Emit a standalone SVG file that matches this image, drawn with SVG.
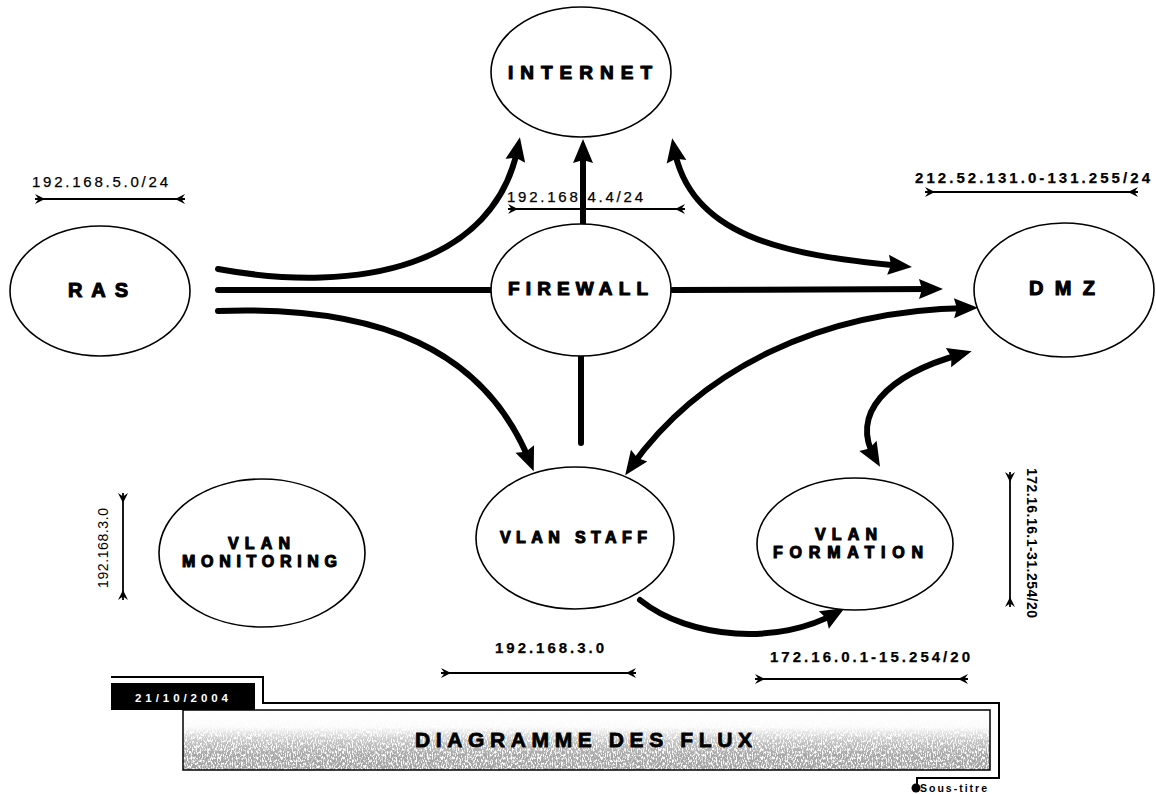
<svg xmlns="http://www.w3.org/2000/svg" width="1156" height="795" viewBox="0 0 1156 795">
  <style>
    text { font-family: "Liberation Sans", Arial, sans-serif; fill: #000; }
    .node ellipse { fill: #fff; stroke: #000; stroke-width: 1.6; }
    .nlabel { font-weight: bold; stroke: #000; stroke-width: 1.1; stroke-linejoin: round; }
    .flow { fill: none; stroke: #000; stroke-width: 6; stroke-linecap: round; }
    .dim { fill: none; stroke: #000; stroke-width: 1.8; marker-start: url(#tick); marker-end: url(#tick); }
    .addr { font-size: 15px; stroke: #000; stroke-width: 0.25; }
    .b { font-weight: bold; }
  </style>
  <defs>
    <!-- solid arrowhead for the flow connectors -->
    <marker id="ah" markerUnits="userSpaceOnUse" viewBox="-2 -12 28 24" markerWidth="28" markerHeight="24" refX="14" refY="0" orient="auto-start-reverse">
      <path d="M0,-10 L24,0 L0,10 L3,0 Z" fill="#000"/>
    </marker>
    <!-- fletched end mark for address range lines -->
    <marker id="tick" markerUnits="userSpaceOnUse" viewBox="-12 -6 14 12" markerWidth="14" markerHeight="12" refX="0" refY="0" orient="auto-start-reverse">
      <path d="M0,-5 L-10,0 L0,5 L-3.5,0 Z" fill="#000"/>
    </marker>
    <linearGradient id="fade" x1="0" y1="0" x2="0" y2="1">
      <stop offset="0" stop-color="#000" stop-opacity="0"/>
      <stop offset="0.28" stop-color="#000" stop-opacity="0.05"/>
      <stop offset="0.5" stop-color="#000" stop-opacity="0.6"/>
      <stop offset="0.75" stop-color="#000" stop-opacity="0.95"/>
      <stop offset="1" stop-color="#000" stop-opacity="1"/>
    </linearGradient>
    <filter id="grain" x="0" y="0" width="1" height="1">
      <feTurbulence type="fractalNoise" baseFrequency="0.8 0.35" numOctaves="3" seed="5" result="t"/>
      <feColorMatrix in="t" type="matrix" values="0 0 0 0 0.36  0 0 0 0 0.36  0 0 0 0 0.36  4.5 0 0 0 -1.45" result="g"/>
      <feComposite in="g" in2="SourceAlpha" operator="in"/>
    </filter>
  </defs>

  <rect width="1156" height="795" fill="#fff"/>

  <!-- flow connectors -->
  <g id="connectors">
    <path class="flow" d="M218,269 C360,295 495,265 518,147" marker-end="url(#ah)"/>
    <path class="flow" d="M218,290 L491,290"/>
    <path class="flow" d="M673,290 L933,289" marker-end="url(#ah)"/>
    <path class="flow" d="M218,311 C380,305 485,350 530,462" marker-end="url(#ah)"/>
    <path class="flow" d="M583,224 L583,149" marker-end="url(#ah)"/>
    <path class="flow" d="M581,356 L581,443"/>
    <path class="flow" d="M674,148 C690,235 780,255 902,266" marker-start="url(#ah)" marker-end="url(#ah)"/>
    <path class="flow" d="M968,308 C820,310 700,370 631,467" marker-start="url(#ah)" marker-end="url(#ah)"/>
    <path class="flow" d="M962,354 C885,375 850,415 875,458" marker-start="url(#ah)" marker-end="url(#ah)"/>
    <path class="flow" d="M640,600 C690,640 780,645 836,613" marker-end="url(#ah)"/>
  </g>

  <!-- nodes -->
  <g id="internet" class="node">
    <ellipse cx="581" cy="72" rx="90" ry="65"/>
    <text class="nlabel" x="508" y="79" font-size="19" textLength="144" lengthAdjust="spacing">INTERNET</text>
  </g>
  <g id="ras" class="node">
    <ellipse cx="100" cy="291" rx="90" ry="65"/>
    <text class="nlabel" x="68" y="297" font-size="20" textLength="60" lengthAdjust="spacing">RAS</text>
  </g>
  <g id="firewall" class="node">
    <ellipse cx="581" cy="290" rx="90" ry="66"/>
    <text class="nlabel" x="508" y="295" font-size="19" textLength="140" lengthAdjust="spacing">FIREWALL</text>
  </g>
  <g id="dmz" class="node">
    <ellipse cx="1064" cy="290" rx="90" ry="67"/>
    <text class="nlabel" x="1029" y="295" font-size="20" textLength="66" lengthAdjust="spacing">DMZ</text>
  </g>
  <g id="vlan-monitoring" class="node">
    <ellipse cx="262" cy="553" rx="103" ry="74"/>
    <text class="nlabel" x="228" y="549" font-size="16" textLength="62" lengthAdjust="spacing">VLAN</text>
    <text class="nlabel" x="182" y="567" font-size="16" textLength="155" lengthAdjust="spacing">MONITORING</text>
  </g>
  <g id="vlan-staff" class="node">
    <ellipse cx="575" cy="538" rx="99" ry="71"/>
    <text class="nlabel" x="500" y="543" font-size="16" textLength="147" lengthAdjust="spacing">VLAN STAFF</text>
  </g>
  <g id="vlan-formation" class="node">
    <ellipse cx="855" cy="544" rx="98" ry="66"/>
    <text class="nlabel" x="815" y="540" font-size="16" textLength="62" lengthAdjust="spacing">VLAN</text>
    <text class="nlabel" x="773" y="558" font-size="16" textLength="150" lengthAdjust="spacing">FORMATION</text>
  </g>

  <!-- address ranges -->
  <g id="ranges">
    <text class="addr" x="32" y="187" textLength="136" lengthAdjust="spacing">192.168.5.0/24</text>
    <path class="dim" d="M35,199 L185,199"/>

    <path class="dim" d="M508,209 L685,209"/>
    <text class="addr" x="507" y="202" font-size="14" textLength="136" lengthAdjust="spacing">192.168.4.4/24</text>

    <text class="addr b" x="915" y="183" textLength="235" lengthAdjust="spacing">212.52.131.0-131.255/24</text>
    <path class="dim" d="M925,192 L1138,192"/>

    <text class="addr b" x="495" y="653" textLength="109" lengthAdjust="spacing">192.168.3.0</text>
    <path class="dim" d="M441,673 L636,673"/>

    <text class="addr b" x="770" y="662" textLength="200" lengthAdjust="spacing">172.16.0.1-15.254/20</text>
    <path class="dim" d="M755,679 L968,679"/>

    <path class="dim" d="M123,493 L123,600"/>
    <text x="0" y="0" font-size="14" transform="translate(108,588) rotate(-90)" textLength="80" lengthAdjust="spacing">192.168.3.0</text>

    <path class="dim" d="M1010,472 L1010,607"/>
    <text class="b" x="0" y="0" font-size="14" transform="translate(1027,468) rotate(90)" textLength="150" lengthAdjust="spacing">172.16.16.1-31.254/20</text>
  </g>

  <!-- title banner -->
  <g id="banner">
    <rect x="183" y="710" width="807" height="60" fill="url(#fade)" filter="url(#grain)"/>
    <rect x="183" y="710" width="807" height="60" fill="none" stroke="#000" stroke-width="1.5"/>
    <path d="M111,677 L263,677 L263,703 L999,703 L999,778 L917,778 L917,786" fill="none" stroke="#000" stroke-width="2"/>
    <rect x="111" y="683" width="144" height="27" fill="#000"/>
    <text x="135" y="702" font-size="11.5" font-weight="bold" style="fill:#fff" textLength="93" lengthAdjust="spacing">21/10/2004</text>
    <text x="415" y="747" font-size="21" font-weight="bold" stroke="#000" stroke-width="0.8" textLength="337" lengthAdjust="spacing">DIAGRAMME DES FLUX</text>
    <circle cx="916" cy="788" r="4.5" fill="#000"/>
    <text x="920" y="792" font-size="10.5" font-weight="bold" textLength="67" lengthAdjust="spacing">Sous-titre</text>
  </g>
</svg>
